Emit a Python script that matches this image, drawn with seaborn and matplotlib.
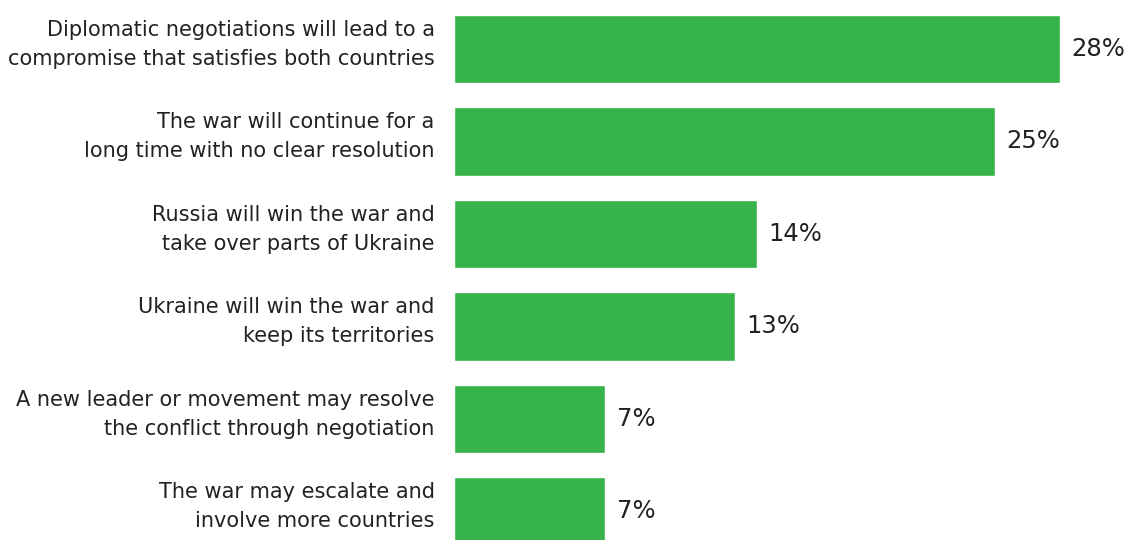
import matplotlib
matplotlib.use("Agg")
import matplotlib.pyplot as plt
import matplotlib.transforms as mtransforms
import seaborn as sns
import pandas as pd

categories = [
    "Diplomatic negotiations will lead to a\ncompromise that satisfies both countries",
    "The war will continue for a\nlong time with no clear resolution",
    "Russia will win the war and\ntake over parts of Ukraine",
    "Ukraine will win the war and\nkeep its territories",
    "A new leader or movement may resolve\nthe conflict through negotiation",
    "The war may escalate and\ninvolve more countries",
]
shares = [28, 25, 14, 13, 7, 7]

df = pd.DataFrame({"outcome": categories, "share": shares})

sns.set_theme(style="white")
plt.rcParams["font.family"] = ["DejaVu Sans"]

fig = plt.figure(figsize=(11.28, 5.4), dpi=100)
ax = fig.add_axes([454 / 1128, 0, 1 - 454 / 1128, 1])

sns.barplot(data=df, x="share", y="outcome", color="#37B449", width=0.74,
            saturation=1, ax=ax, orient="h")

ax.set_xlim(0, 674 / 21.64)
ax.set_ylim(5.31, -0.53)
ax.set_xlabel("")
ax.set_ylabel("")
ax.set_xticks([])
ax.tick_params(axis="y", length=0, pad=14, labelsize=15, labelcolor="#222222")

# nudge the two-line category labels slightly upward
lift = mtransforms.ScaledTranslation(0, 8 / 72, fig.dpi_scale_trans)
for lbl in ax.get_yticklabels():
    lbl.set_horizontalalignment("right")
    lbl.set_multialignment("right")
    lbl.set_linespacing(1.55)
    lbl.set_transform(lbl.get_transform() + lift)
for s in ax.spines.values():
    s.set_visible(False)

for container in ax.containers:
    ax.bar_label(container, labels=[f"{v}%" for v in shares], padding=8,
                 fontsize=17.5, color="#222222")

fig.savefig("out.png", dpi=100)
